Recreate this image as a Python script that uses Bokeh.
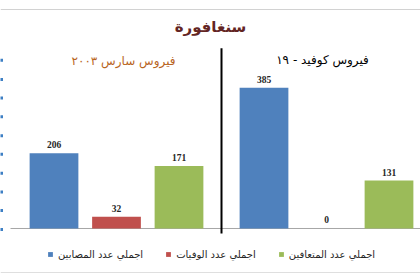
from bokeh.plotting import figure
from bokeh.models import (Range1d, ColumnDataSource, Span, Label, LabelSet, Legend,
                          LegendItem)
from bokeh.embed import file_html
from bokeh.resources import INLINE

# ---- data ----
title_text = "سنغافورة"
groups = ["فيروس سارس ٢٠٠٣", "فيروس كوفيد - ١٩"]
series = ["اجملي عدد المصابين", "اجملي عدد الوفيات", "اجملي عدد المتعافين"]
sars = [206, 32, 171]
covid = [385, 0, 131]
colors = ["#4f81bd", "#c0504d", "#9bbb59"]
edge_ticks = [-3, 49, 100, 151, 203, 254, 306, 357, 408, 460]

GAP = 0.36
BAR_W = 0.78
AR = "DejaVu Sans"
X0, X1 = -0.856, 5.864

p = figure(width=420, height=280, output_backend="svg", toolbar_location=None,
           x_range=Range1d(X0, X1), y_range=Range1d(-120.4, 599.2),
           x_axis_type=None, y_axis_type=None,
           min_border_left=0, min_border_right=0, min_border_top=9, min_border_bottom=8)
p.outline_line_color = None
p.grid.visible = False
p.background_fill_color = "white"
p.border_fill_color = "white"

# blue marks of a cut-off axis at the left edge
p.scatter(x=[X0 + 0.016] * len(edge_ticks), y=edge_ticks, marker="square", size=3,
          fill_color="#3d7fc4", line_color=None)

# frame lines
p.add_layout(Span(location=p.y_range.end, dimension="width", line_color="#a6a6a6", line_width=1))
p.add_layout(Span(location=p.y_range.start, dimension="width", line_color="#bfbfbf", line_width=1))
p.segment(x0=[X0 + 0.16], y0=[0], x1=[X1], y1=[0], line_color="#a6a6a6", line_width=1)

items = []
for si, name in enumerate(series):
    src = ColumnDataSource(dict(x=[si, 3 + GAP + si], top=[sars[si], covid[si]],
                                lab=[str(sars[si]), str(covid[si])]))
    r = p.vbar(x="x", top="top", bottom=0, width=BAR_W, source=src,
               fill_color=colors[si], line_color=None)
    items.append(LegendItem(label=name, renderers=[r]))
    p.add_layout(LabelSet(x="x", y="top", text="lab", source=src, text_align="center",
                          text_baseline="bottom", y_offset=5, text_font_size="9.5px",
                          text_font_style="bold", text_color="#262626",
                          text_font="Open Sans"))

# separator between the two groups
sep_x = (2 + 3 + GAP) / 2
p.segment(x0=[sep_x], y0=[-14], x1=[sep_x], y1=[493], line_color="black", line_width=2)

# titles
p.add_layout(Label(x=2.504, y=550, text=title_text, text_align="center", text_baseline="middle",
                   text_font=AR, text_font_size="15px", text_font_style="bold",
                   text_color="#632523"))
p.add_layout(Label(x=1.112, y=457, text=groups[0], text_align="center", text_baseline="middle",
                   text_font=AR, text_font_size="12px", text_color="#b8651e"))
p.add_layout(Label(x=4.296, y=462, text=groups[1], text_align="center", text_baseline="middle",
                   text_font=AR, text_font_size="12px", text_color="#000000"))

legend = Legend(items=items, orientation="horizontal", location=(47, 12),
                border_line_color=None, background_fill_alpha=0, padding=0, margin=0,
                spacing=22, label_standoff=5, glyph_width=6, glyph_height=6,
                label_text_font=AR, label_text_font_size="10px", label_text_color="#262626",
                label_height=12)
p.add_layout(legend, "center")

open("out.html", "w").write(file_html(p, INLINE))
